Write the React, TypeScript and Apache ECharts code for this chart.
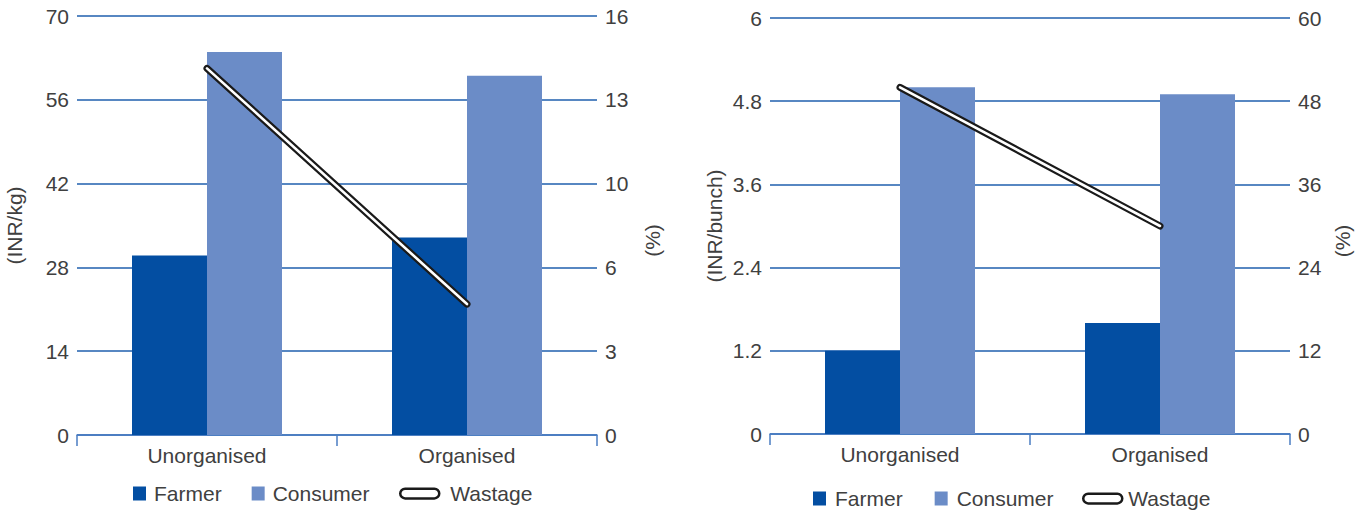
import React, { useEffect, useRef } from "react";
import * as echarts from "echarts";

// Categories shared by both panels
const categories = ["Unorganised", "Organised"];

// Panel 1: price per kg and wastage share
const kgFarmer = [30, 33];
const kgConsumer = [64, 60];
const kgWastage = [14, 5];
const kgTicks = [0, 14, 28, 42, 56, 70];
const kgPctMax = 16; // labelled 0, 3, 6, 10, 13, 16

// Panel 2: price per bunch and wastage share
const bunchFarmer = [1.2, 1.6];
const bunchConsumer = [5.0, 4.9];
const bunchWastage = [50, 30];
const bunchTicks = [0, 1.2, 2.4, 3.6, 4.8, 6];
const bunchPctTicks = [0, 12, 24, 36, 48, 60];

const FONT = "Liberation Sans";
const TEXT = "#404040";
const FARMER = "#034ea2";
const CONSUMER = "#6b8cc7";
const GRID_LINE = "#1f5fae";
const AXIS_LINE = "#4a7cc2";

const capsule = "path://M5,0 H35 A5,5 0 0 1 35,10 H5 A5,5 0 0 1 5,0 Z";

const labelStyle = { fontFamily: FONT, fontSize: 21, color: TEXT };

function valueAxis(
  gridIndex: number,
  ticks: number[],
  name: string,
  nameGap: number,
  primary: boolean,
  round = false,
  maxOverride?: number
) {
  const max = maxOverride ?? ticks[ticks.length - 1];
  const interval = max / (ticks.length - 1);
  return {
    type: "value",
    gridIndex,
    position: primary ? "left" : "right",
    min: 0,
    max,
    interval,
    name,
    nameLocation: "middle",
    nameGap,
    nameRotate: 90,
    nameTextStyle: { ...labelStyle, padding: primary ? 0 : [0, 30, 0, 0] },
    axisLine: { show: false },
    axisTick: { show: false },
    axisLabel: {
      ...labelStyle,
      margin: 8,
      formatter: (v: number) => (round ? String(Math.round(v)) : String(Math.round(v * 10) / 10)),
    },
    splitLine: primary
      ? { show: true, lineStyle: { color: GRID_LINE, width: 1.5 } }
      : { show: false },
  };
}

function categoryAxis(gridIndex: number) {
  return {
    type: "category",
    gridIndex,
    data: categories,
    boundaryGap: true,
    axisLine: { show: true, lineStyle: { color: AXIS_LINE, width: 1.5 } },
    axisTick: { show: true, length: 11, interval: 0, lineStyle: { color: AXIS_LINE, width: 1.5 } },
    axisLabel: { ...labelStyle, margin: 10, interval: 0 },
    splitLine: { show: false },
  };
}

function barSeries(name: string, color: string, data: number[], xi: number, yi: number) {
  return {
    name,
    type: "bar",
    xAxisIndex: xi,
    yAxisIndex: yi,
    data,
    barWidth: 75,
    barGap: "0%",
    itemStyle: { color },
    z: 2,
  };
}

// Wastage is drawn as a black outline with a white core
function wastageSeries(data: number[], xi: number, yi: number) {
  return [
    {
      name: "Wastage",
      type: "line",
      xAxisIndex: xi,
      yAxisIndex: yi,
      data,
      showSymbol: false,
      symbol: "none",
      lineStyle: { color: "#1a1a1a", width: 7, cap: "round" },
      z: 5,
    },
    {
      name: "Wastage",
      type: "line",
      xAxisIndex: xi,
      yAxisIndex: yi,
      data,
      showSymbol: false,
      symbol: "none",
      lineStyle: { color: "#ffffff", width: 2.6, cap: "round" },
      z: 6,
    },
  ];
}

function legends(
  left: number,
  top: number,
  gapBars: number,
  wastageLeft: number,
  textPadBars: number,
  textPadLine: number
) {
  return [
    {
      left,
      top,
      padding: 0,
      itemGap: gapBars,
      itemWidth: 13,
      itemHeight: 14,
      textStyle: { ...labelStyle, lineHeight: 20, padding: [0, 0, 0, textPadBars] },
      data: [
        { name: "Farmer", icon: "rect", itemStyle: { color: FARMER } },
        { name: "Consumer", icon: "rect", itemStyle: { color: CONSUMER } },
      ],
      selectedMode: false,
    },
    {
      left: wastageLeft,
      top,
      padding: 0,
      itemWidth: 39,
      itemHeight: 10,
      textStyle: { ...labelStyle, lineHeight: 20, padding: [0, 0, 0, textPadLine] },
      data: [
        {
          name: "Wastage",
          icon: capsule,
          itemStyle: { color: "#ffffff", borderColor: "#1a1a1a", borderWidth: 2.5 },
        },
      ],
      selectedMode: false,
    },
  ];
}

export default function App() {
  const ref = useRef<HTMLDivElement>(null);

  useEffect(() => {
    if (!ref.current) return;
    const chart = echarts.init(ref.current, null, { renderer: "svg" });
    chart.setOption({
      animation: false,
      backgroundColor: "#ffffff",
      textStyle: { fontFamily: FONT },
      grid: [
        { left: 77, right: 1364 - 597, top: 16, bottom: 510 - 435 },
        { left: 770, right: 1364 - 1290, top: 18, bottom: 510 - 434 },
      ],
      xAxis: [categoryAxis(0), categoryAxis(1)],
      yAxis: [
        valueAxis(0, kgTicks, "(INR/kg)", 52, true, true),
        valueAxis(0, kgTicks, "(%)", 45, false, true, kgPctMax),
        valueAxis(1, bunchTicks, "(INR/bunch)", 45, true, false),
        valueAxis(1, bunchPctTicks, "(%)", 42, false, true),
      ],
      legend: [
        ...legends(133, 483, 30, 399, 3, 6),
        ...legends(813, 488, 32, 1082, 4, 1),
      ],
      series: [
        barSeries("Farmer", FARMER, kgFarmer, 0, 0),
        barSeries("Consumer", CONSUMER, kgConsumer, 0, 0),
        ...wastageSeries(kgWastage, 0, 1),
        barSeries("Farmer", FARMER, bunchFarmer, 1, 2),
        barSeries("Consumer", CONSUMER, bunchConsumer, 1, 2),
        ...wastageSeries(bunchWastage, 1, 3),
      ],
    });
    return () => chart.dispose();
  }, []);

  return (
    <div
      ref={ref}
      style={{ position: "fixed", left: 0, top: 0, width: 1364, height: 510, background: "#fff" }}
    />
  );
}
